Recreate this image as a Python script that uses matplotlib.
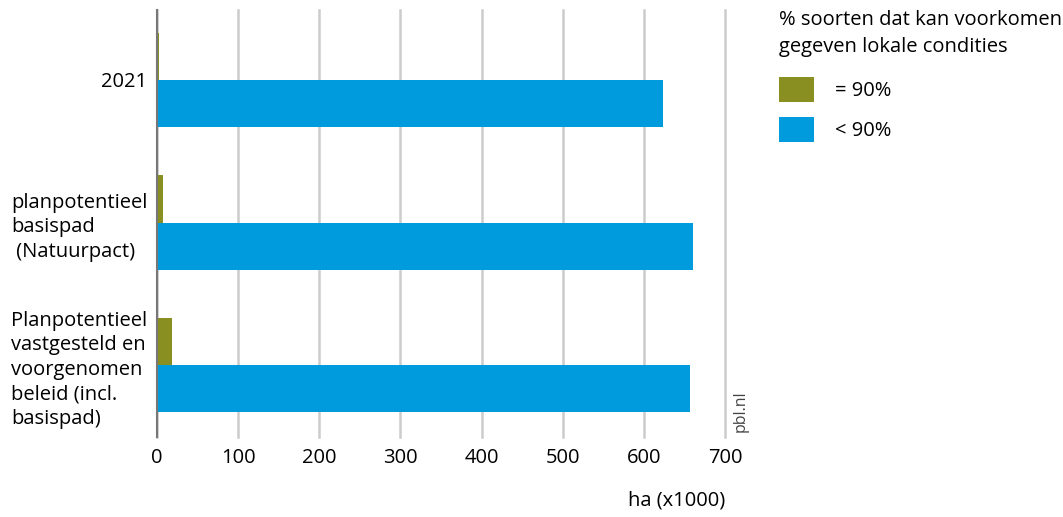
import numpy as np
import matplotlib.pyplot as plt

plt.rcParams['font.family'] = ['Open Sans', 'DejaVu Sans']

# data (ha x1000)
categories = ['2021',
              'planpotentieel\nbasispad\n (Natuurpact)',
              'Planpotentieel\nvastgesteld en\nvoorgenomen\nbeleid (incl.\nbasispad)']
eq90 = [3, 7, 18]
lt90 = [624, 660, 657]
series_labels = ['= 90%', '< 90%']
legend_title = '% soorten dat kan voorkomen\ngegeven lokale condities'

green = '#8a8f22'
blue = '#009bdc'
fs = 14.5

fig = plt.figure(figsize=(10.63, 5.17), dpi=100)
ax = fig.add_axes([0.1477, 0.1547, 0.5343, 0.826])

y = np.arange(len(categories))
h = 0.33
ax.barh(y - h/2, eq90, height=h, color=green, label=series_labels[0], zorder=3)
ax.barh(y + h/2, lt90, height=h, color=blue, label=series_labels[1], zorder=3)

ax.set_xlim(0, 700)
ax.set_ylim(2.505, -0.491)
ax.set_xticks(np.arange(0, 701, 100))
ax.set_yticks(y)
ax.set_yticklabels(categories, fontsize=fs, multialignment='left', linespacing=1.3)
ax.tick_params(axis='y', length=0, pad=7)
ax.tick_params(axis='x', length=0, labelsize=fs, pad=8)

ax.grid(axis='x', color='#cccccc', linewidth=1.8, zorder=0)
for gl in ax.get_xgridlines():
    gl.set_clip_on(False)
for s in ['top', 'right', 'bottom']:
    ax.spines[s].set_visible(False)
ax.spines['left'].set_color('#777777')
ax.spines['left'].set_linewidth(1.5)
ax.spines['left'].set_zorder(4)

ax.set_xlabel('ha (x1000)', loc='right', fontsize=fs, labelpad=16)

fig.text(0.697, 0.165, 'pbl.nl', rotation=90, fontsize=11.5, color='#444444',
         ha='center', va='bottom')

leg = ax.legend(title=legend_title, loc='upper left', bbox_to_anchor=(0.733, 0.98),
                bbox_transform=fig.transFigure, frameon=False, fontsize=fs,
                title_fontsize=fs, alignment='left', handlelength=1.75,
                handleheight=1.6, handletextpad=1.0, labelspacing=0.7,
                borderpad=0, borderaxespad=0)
leg.get_title().set_linespacing(1.45)
leg._legend_box.sep = 14

fig.savefig('out.png', dpi=100)
